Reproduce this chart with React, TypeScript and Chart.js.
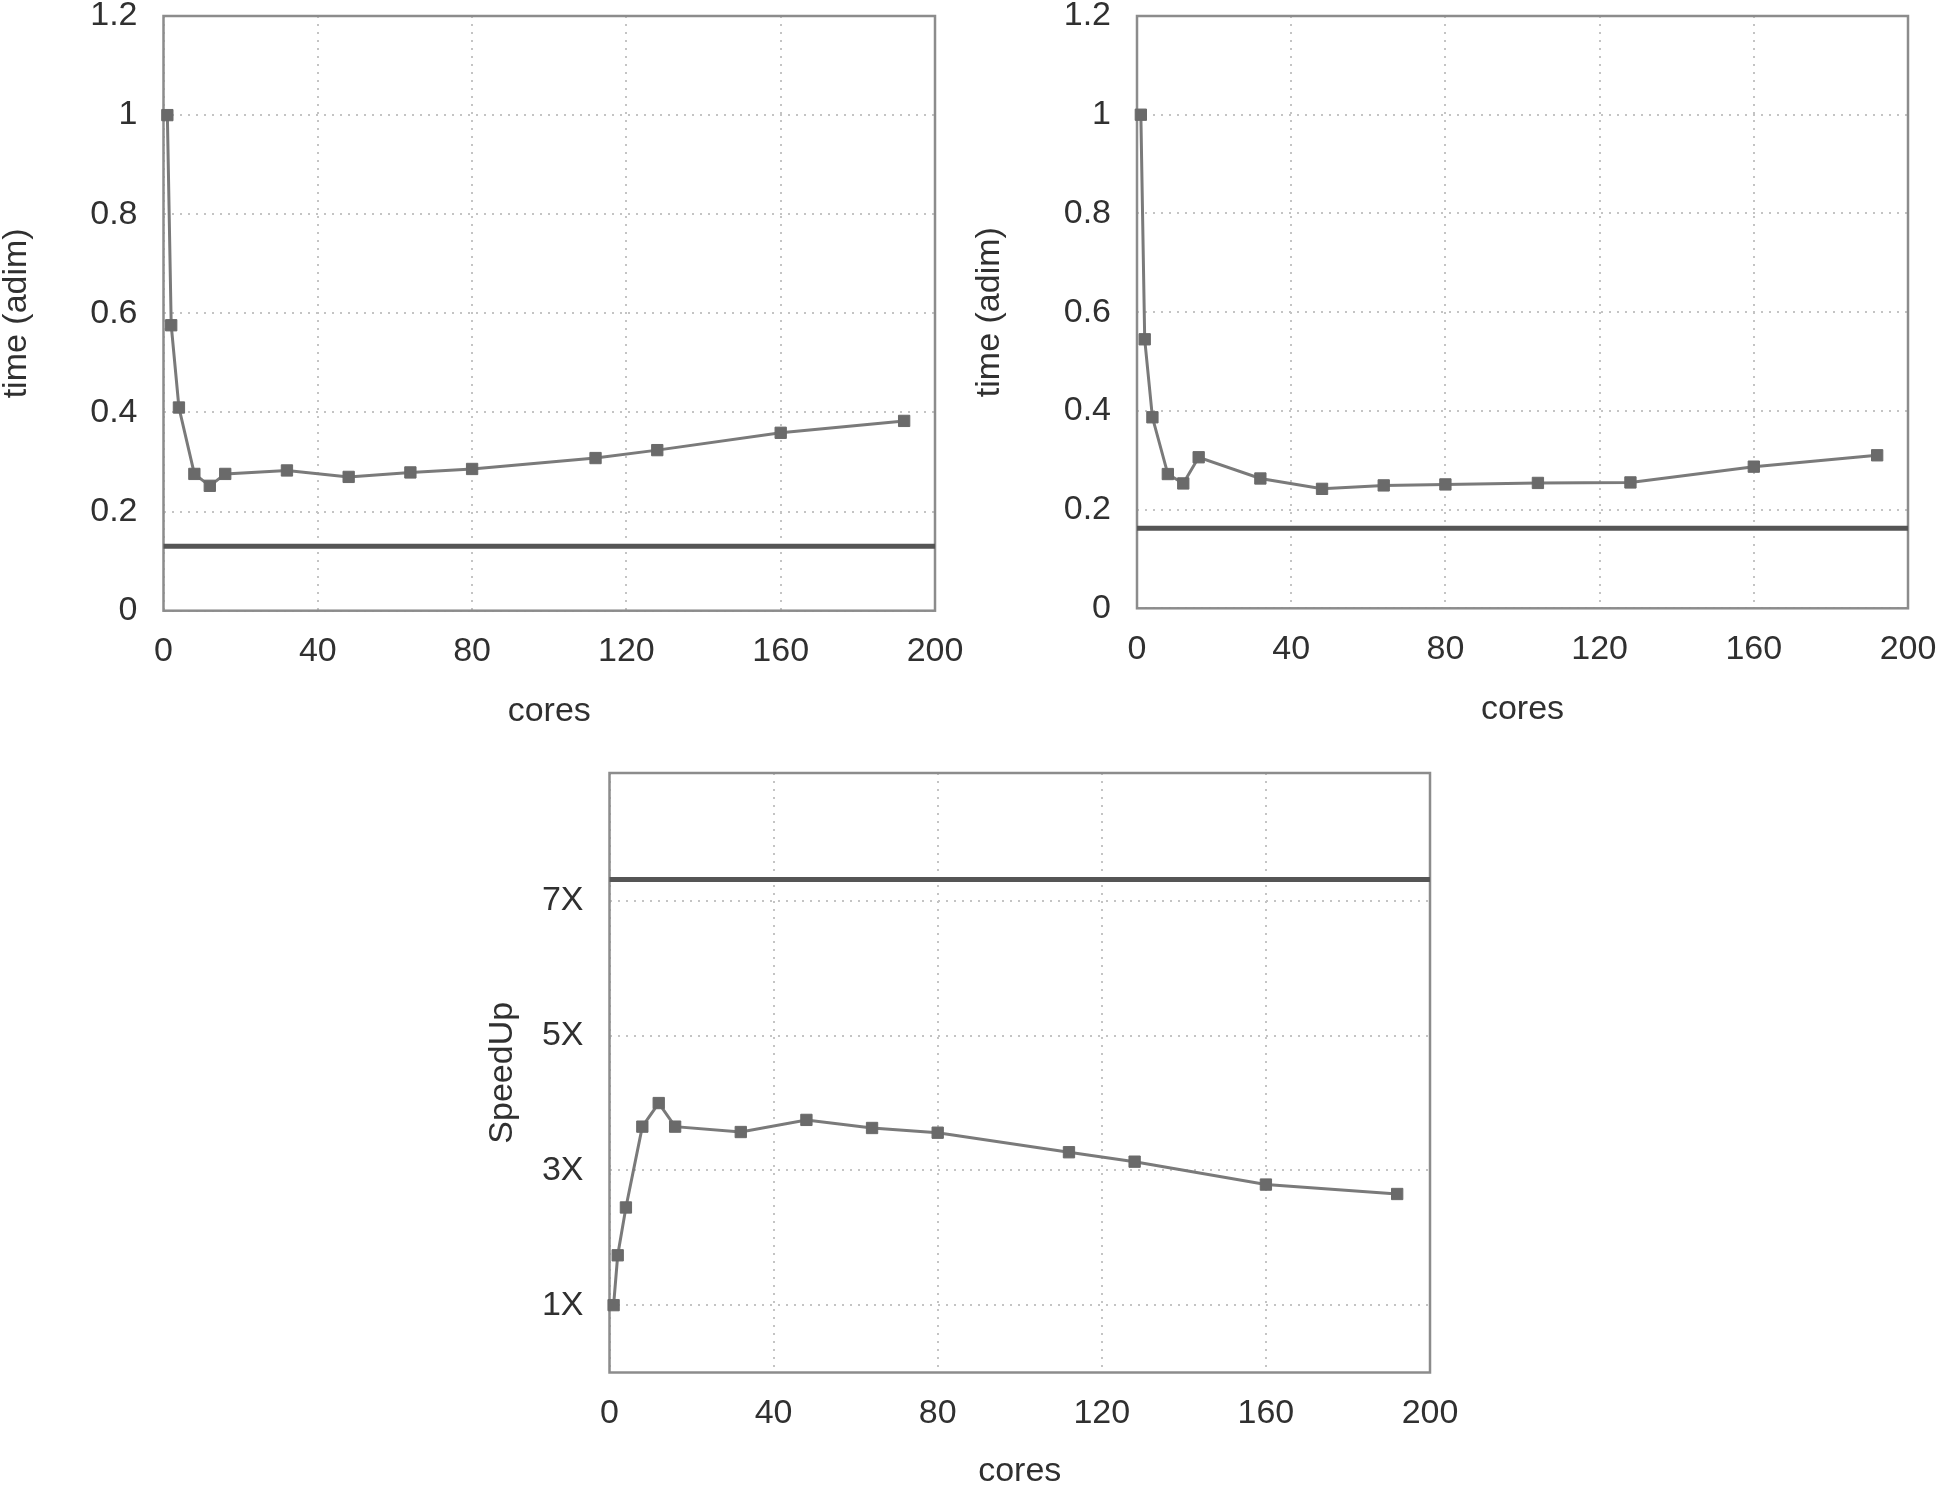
import React, { useEffect, useRef } from "react";
import { Chart, registerables } from "chart.js";

Chart.register(...registerables);

// cores used in each run
const coresA = [1, 2, 4, 8, 12, 16, 32, 48, 64, 80, 112, 128, 160, 192];
const coresB = [1, 2, 4, 8, 12, 16, 32, 48, 64, 80, 104, 128, 160, 192];

// normalised times (adim)
const timeA = [1.0, 0.576, 0.41, 0.276, 0.252, 0.276, 0.283, 0.27, 0.279, 0.286, 0.308, 0.324, 0.359, 0.383];
const timeB = [1.0, 0.545, 0.387, 0.272, 0.253, 0.306, 0.263, 0.242, 0.249, 0.251, 0.254, 0.255, 0.287, 0.31];

// speed up of run A
const speedUp = [1.0, 1.74, 2.45, 3.65, 4.0, 3.65, 3.57, 3.75, 3.63, 3.56, 3.27, 3.13, 2.79, 2.65];

// horizontal reference levels
const refTimeA = 0.13;
const refTimeB = 0.162;
const refSpeedUp = 7.32;

const xTicks = [0, 40, 80, 120, 160, 200];
const timeTicks = [0, 0.2, 0.4, 0.6, 0.8, 1, 1.2];
const speedTicks = [1, 3, 5, 7];

const FONT = '"Liberation Sans", Arial, Helvetica, sans-serif';
const TEXT = "#303030";
const PAD = 70; // room above / right of the plot for overflowing labels

const framePlugin = {
  id: "frame",
  beforeDatasetsDraw(chart) {
    const { ctx, chartArea: a } = chart;
    ctx.save();
    ctx.strokeStyle = "#8c8c8c";
    ctx.lineWidth = 2.5;
    ctx.strokeRect(a.left, a.top, a.right - a.left, a.bottom - a.top);
    ctx.restore();
  },
};

const Panel = ({ plot, yTitleX, xTitleY, xs, ys, refY, yMax, yTicks, yLabel, yTitle }) => {
  const canvasRef = useRef(null);
  const chartRef = useRef(null);

  const left = Math.round(yTitleX - 17);
  const top = Math.round(plot.top - PAD);
  const width = Math.round(plot.right + PAD - left);
  const height = Math.round(xTitleY + 17 - top);

  useEffect(() => {
    if (chartRef.current) chartRef.current.destroy();

    const yAxisW = plot.left - left;
    const xAxisH = top + height - plot.bottom;

    chartRef.current = new Chart(canvasRef.current, {
      type: "line",
      data: {
        datasets: [
          {
            data: [{ x: 0, y: refY }, { x: 200, y: refY }],
            borderColor: "#555555",
            borderWidth: 5,
            pointRadius: 0,
            clip: false,
          },
          {
            data: xs.map((x, i) => ({ x, y: ys[i] })),
            borderColor: "#7a7a7a",
            borderWidth: 3,
            pointStyle: "rect",
            pointRadius: 8,
            pointBackgroundColor: "#6a6a6a",
            pointBorderColor: "#6a6a6a",
            pointBorderWidth: 1,
            tension: 0,
            clip: false,
          },
        ],
      },
      options: {
        animation: false,
        responsive: false,
        layout: { padding: { top: PAD, right: PAD, left: 0, bottom: 0 } },
        plugins: { legend: { display: false }, tooltip: { enabled: false } },
        scales: {
          x: {
            type: "linear",
            min: 0,
            max: 200,
            afterBuildTicks: (s) => {
              s.ticks = xTicks.map((v) => ({ value: v }));
            },
            afterFit: (s) => {
              s.height = xAxisH;
            },
            grid: { color: "#c4c4c4", lineWidth: 2, drawTicks: false },
            border: { display: false, dash: [2, 6] },
            ticks: {
              padding: 21,
              color: TEXT,
              maxRotation: 0,
              autoSkip: false,
              font: { family: FONT, size: 34 },
              callback: (v) => String(v),
            },
            title: {
              display: true,
              text: "cores",
              color: TEXT,
              padding: 0,
              font: { family: FONT, size: 34, lineHeight: 1 },
            },
          },
          y: {
            type: "linear",
            min: 0,
            max: yMax,
            afterBuildTicks: (s) => {
              s.ticks = yTicks.map((v) => ({ value: v }));
            },
            afterFit: (s) => {
              s.width = yAxisW;
            },
            grid: { color: "#c4c4c4", lineWidth: 2, drawTicks: false },
            border: { display: false, dash: [2, 6] },
            ticks: {
              padding: 26,
              color: TEXT,
              autoSkip: false,
              font: { family: FONT, size: 34 },
              callback: yLabel,
            },
            title: {
              display: true,
              text: yTitle,
              color: TEXT,
              padding: 0,
              font: { family: FONT, size: 34, lineHeight: 1 },
            },
          },
        },
      },
      plugins: [framePlugin],
    });

    return () => {
      if (chartRef.current) {
        chartRef.current.destroy();
        chartRef.current = null;
      }
    };
  }, []);

  return (
    <canvas
      ref={canvasRef}
      width={width}
      height={height}
      style={{ position: "absolute", left, top, width, height }}
    />
  );
};

export default function App() {
  return (
    <div
      style={{
        position: "absolute",
        left: 0,
        top: 0,
        width: 1936,
        height: 1486,
        overflow: "hidden",
        background: "#ffffff",
      }}
    >
      <Panel
        plot={{ left: 163.5, top: 16, right: 935, bottom: 610.7 }}
        yTitleX={17}
        xTitleY={712}
        xs={coresA}
        ys={timeA}
        refY={refTimeA}
        yMax={1.2}
        yTicks={timeTicks}
        yLabel={(v) => String(v)}
        yTitle="time (adim)"
      />
      <Panel
        plot={{ left: 1137, top: 16, right: 1908, bottom: 608.3 }}
        yTitleX={990}
        xTitleY={709.5}
        xs={coresB}
        ys={timeB}
        refY={refTimeB}
        yMax={1.2}
        yTicks={timeTicks}
        yLabel={(v) => String(v)}
        yTitle="time (adim)"
      />
      <Panel
        plot={{ left: 609.5, top: 773.3, right: 1429.5, bottom: 1372.5 }}
        yTitleX={503}
        xTitleY={1472}
        xs={coresA}
        ys={speedUp}
        refY={refSpeedUp}
        yMax={8.9}
        yTicks={speedTicks}
        yLabel={(v) => v + "X"}
        yTitle="SpeedUp"
      />
    </div>
  );
}
